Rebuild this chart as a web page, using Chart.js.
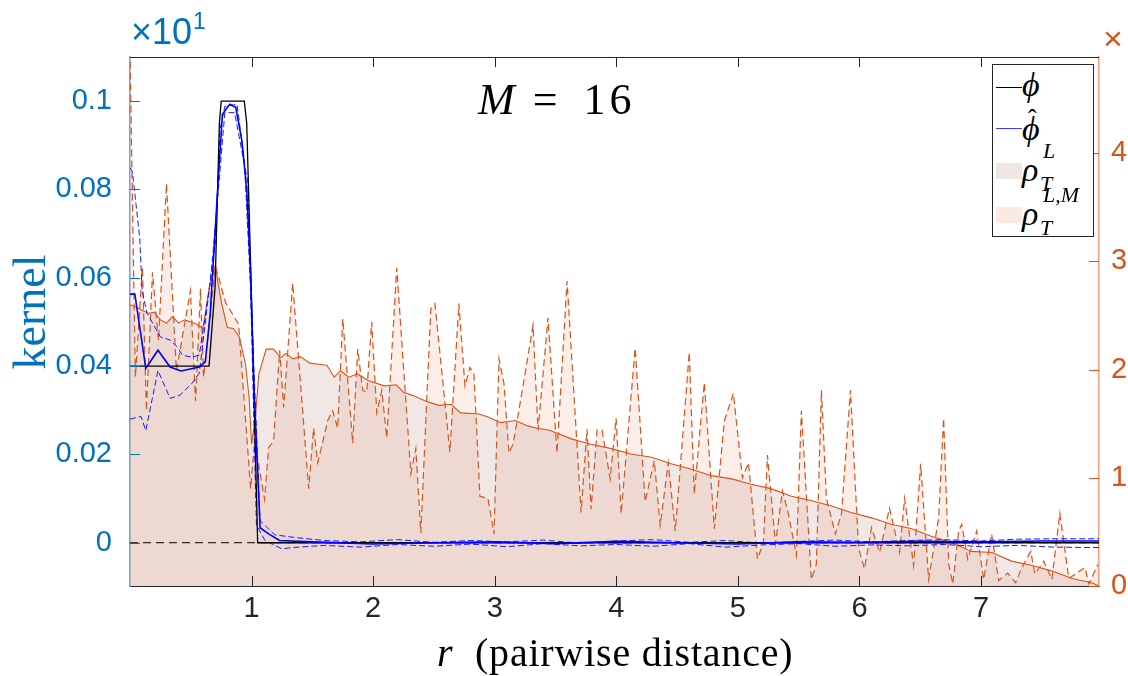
<!DOCTYPE html>
<html lang="en">
<head>
<meta charset="UTF-8">
<title>Kernel estimate, M = 16</title>
<script src="https://cdn.jsdelivr.net/npm/chart.js"></script>
<style>
  body { margin: 0; background: #fff; }
  .wrap { position: relative; width: 1128px; height: 676px; overflow: hidden; }
  canvas { position: absolute; left: 0; top: 0; }
  .tex { position: absolute; font-family: 'Liberation Serif', 'DejaVu Serif', serif; color: #000; white-space: nowrap; line-height: 1; }
  .sans { position: absolute; font-family: 'Liberation Sans', Arial, sans-serif; white-space: nowrap; line-height: 1; }
  .legend { position: absolute; left: 992px; top: 64px; width: 100px; height: 171px; border: 1px solid #262626; background: #fff; }
  .legend .ln { position: absolute; left: 3px; width: 26px; height: 0; }
  .legend .sw { position: absolute; left: 3px; width: 26px; height: 16px; }
  .legend .lab { position: absolute; left: 29px; font-family: 'Liberation Serif', 'DejaVu Serif', serif; font-style: italic; font-size: 34px; line-height: 1; }
  .legend .sup, .legend .sub { position: absolute; font-size: 22px; line-height: 1; }
  .legend .sup { left: 21px; top: -13px; }
  .legend .sub { left: 18px; top: 20px; }
</style>
</head>
<body>
<div class="wrap">
  <canvas id="kernelChart" width="1128" height="676"></canvas>

  <div class="sans" style="left:131px; top:14px; font-size:36px; color:#0072BD;">&times;10<span style="font-size:23px; position:relative; top:-15px; margin-left:1px;">1</span></div>
  <div class="sans" style="left:1103px; top:21px; font-size:34px; color:#D95319;">&times;</div>

  <div class="tex" style="left:478px; top:78px; font-size:44px;"><i>M</i><span style="margin:0 26px 0 18px;">=</span><span style="letter-spacing:4px;">16</span></div>
  <div class="tex" style="left:437px; top:633px; font-size:40px; letter-spacing:0.8px;"><i>r</i>&nbsp; (pairwise distance)</div>
  <div class="tex" style="left:-70px; top:289px; width:200px; text-align:center; font-size:46px; color:#0072BD; transform:rotate(-90deg);">kernel</div>

  <div class="legend">
    <div class="ln" style="top:22px; border-top:1px solid #000;"></div>
    <div class="lab" style="top:3px;">&#981;</div>
    <div class="ln" style="top:63px; border-top:1.5px solid #3a3aff;"></div>
    <div class="lab" style="top:47px;">&#981;<span style="position:absolute; left:6px; top:-6px; font-style:normal; font-size:26px;">&#710;</span></div>
    <div class="sw" style="top:98px; background:#efe6e3;"></div>
    <div class="lab" style="top:88px;">&rho;<span class="sup">L</span><span class="sub">T</span></div>
    <div class="sw" style="top:142px; background:#fbe9e3;"></div>
    <div class="lab" style="top:132px;">&rho;<span class="sup">L,M</span><span class="sub">T</span></div>
  </div>
</div>

<script>
// axis ticks
const xTicks = [1, 2, 3, 4, 5, 6, 7];
const leftTicks = [0, 0.02, 0.04, 0.06, 0.08, 0.1];
const rightTicks = [0, 1, 2, 3, 4];

// true kernel phi
const phiX = [0, 0.65, 0.70, 0.735, 0.75, 0.94, 0.96, 1.0, 1.05, 7.97];
const phi  = [0.04, 0.04, 0.058, 0.095, 0.1, 0.1, 0.095, 0.055, 0, 0];

// estimated kernel phi-hat (mean) and its bounds
const phiHatX = [0, 0.04, 0.13, 0.23, 0.33, 0.42, 0.57, 0.62, 0.66, 0.71, 0.76, 0.82, 0.87, 0.92, 0.96, 0.99, 1.02, 1.07, 1.14, 1.23, 1.5, 2.0, 2.5, 3.0, 3.5, 4.0, 4.5, 5.0, 5.5, 6.0, 6.5, 7.0, 7.5, 7.97];
const phiHat  = [0.0563, 0.0563, 0.0395, 0.0436, 0.0398, 0.0389, 0.0398, 0.041, 0.052, 0.075, 0.097, 0.0993, 0.0986, 0.091, 0.080, 0.062, 0.035, 0.0034, 0.002, 0.0005, 0.0002, -0.0003, 0, 0.0002, -0.0002, 0.0003, 0, -0.0003, 0.0002, 0.0001, 0.0003, 0.0002, 0.0004, 0.0004];

const phiUpX = [0, 0.02, 0.08, 0.10, 0.14, 0.25, 0.33, 0.39, 0.43, 0.51, 0.57, 0.65, 0.70, 0.74, 0.78, 0.88, 0.94, 0.99, 1.07, 1.19, 1.35, 1.6, 1.9, 2.2, 2.5, 2.8, 3.1, 3.4, 3.7, 4.0, 4.3, 4.6, 4.9, 5.2, 5.5, 5.8, 6.1, 6.4, 6.7, 7.0, 7.3, 7.6, 7.97];
const phiUp  = [0.085, 0.084, 0.069, 0.057, 0.052, 0.0466, 0.0459, 0.0443, 0.0425, 0.042, 0.0425, 0.057, 0.067, 0.0936, 0.0988, 0.0993, 0.0868, 0.059, 0.005, 0.0018, 0.0012, 0.0005, 0.0002, 0.0007, 0.0001, 0.0005, 0.0002, 0.0006, -0.0001, 0.0004, 0.0007, 0.0001, 0.0005, -0.0001, 0.0003, 0.0006, 0.0002, 0.0005, 0.0007, 0.0004, 0.0008, 0.0009, 0.0009];

const phiLoX = [0, 0.09, 0.13, 0.23, 0.33, 0.41, 0.51, 0.57, 0.65, 0.68, 0.78, 0.86, 0.97, 1.04, 1.11, 1.25, 1.33, 1.6, 1.9, 2.2, 2.5, 2.8, 3.1, 3.4, 3.7, 4.0, 4.3, 4.6, 4.9, 5.2, 5.5, 5.8, 6.1, 6.4, 6.7, 7.0, 7.3, 7.6, 7.97];
const phiLo  = [0.028, 0.0286, 0.0254, 0.039, 0.0327, 0.0334, 0.0361, 0.0384, 0.057, 0.0647, 0.0974, 0.0974, 0.0815, 0.004, 0.0005, -0.0014, -0.0011, -0.0006, -0.001, -0.0004, -0.0008, -0.0003, -0.0009, -0.0002, -0.0007, -0.0004, -0.0008, -0.0002, -0.001, -0.0005, -0.0002, -0.0008, -0.0005, -0.0007, -0.0004, -0.0009, -0.0006, -0.001, -0.0011];

const zeroX = [0, 7.97];
const zero  = [0, 0];

// rho_T^L (right axis)
const rhoLX = [0.00, 0.05, 0.10, 0.15, 0.20, 0.25, 0.30, 0.35, 0.40, 0.45, 0.50, 0.55, 0.60, 0.65, 0.70, 0.75, 0.80, 0.85, 0.90, 0.95, 0.98, 1.00, 1.03, 1.06, 1.12, 1.18, 1.24, 1.28, 1.34, 1.40, 1.48, 1.55, 1.62, 1.68, 1.73, 1.80, 1.87, 1.96, 2.09, 2.19, 2.25, 2.33, 2.43, 2.54, 2.64, 2.72, 2.87, 2.95, 3.05, 3.17, 3.27, 3.34, 3.45, 3.63, 3.79, 3.96, 4.12, 4.29, 4.45, 4.62, 4.78, 4.95, 5.11, 5.27, 5.44, 5.60, 5.77, 5.93, 6.10, 6.26, 6.43, 6.59, 6.76, 6.92, 7.09, 7.25, 7.42, 7.58, 7.75, 7.91, 7.97];
const rhoL  = [2.60, 2.58, 2.55, 2.52, 2.53, 2.46, 2.43, 2.49, 2.43, 2.46, 2.44, 2.42, 2.38, 2.75, 2.96, 2.63, 2.39, 2.38, 2.30, 2.05, 1.74, 1.31, 1.55, 1.96, 2.19, 2.19, 2.11, 2.15, 2.10, 2.12, 2.06, 2.05, 2.04, 1.93, 1.99, 1.93, 1.96, 1.90, 1.85, 1.86, 1.79, 1.76, 1.71, 1.67, 1.68, 1.60, 1.59, 1.56, 1.51, 1.53, 1.48, 1.46, 1.44, 1.36, 1.31, 1.27, 1.22, 1.19, 1.13, 1.08, 1.02, 0.99, 0.94, 0.90, 0.83, 0.79, 0.74, 0.68, 0.63, 0.57, 0.53, 0.46, 0.40, 0.32, 0.31, 0.23, 0.19, 0.14, 0.07, 0.03, 0.0];

// rho_T^{L,M} (right axis)
const rhoLMX = [0.00, 0.044, 0.102, 0.135, 0.185, 0.234, 0.300, 0.382, 0.497, 0.539, 0.580, 0.605, 0.703, 0.786, 0.893, 0.992, 1.025, 1.107, 1.140, 1.181, 1.231, 1.264, 1.338, 1.470, 1.510, 1.544, 1.568, 1.626, 1.667, 1.708, 1.750, 1.832, 1.873, 1.914, 1.947, 1.988, 2.030, 2.071, 2.112, 2.194, 2.310, 2.351, 2.392, 2.474, 2.508, 2.631, 2.705, 2.755, 2.796, 2.829, 2.878, 2.944, 2.994, 3.035, 3.076, 3.117, 3.150, 3.180, 3.258, 3.315, 3.356, 3.438, 3.512, 3.595, 3.710, 3.759, 3.792, 3.842, 3.883, 3.949, 3.998, 4.040, 4.155, 4.237, 4.312, 4.361, 4.427, 4.485, 4.600, 4.641, 4.724, 4.806, 4.889, 4.963, 5.037, 5.087, 5.161, 5.210, 5.243, 5.309, 5.366, 5.415, 5.481, 5.522, 5.604, 5.645, 5.687, 5.728, 5.802, 5.852, 5.926, 5.992, 6.041, 6.099, 6.165, 6.247, 6.330, 6.371, 6.445, 6.503, 6.569, 6.651, 6.692, 6.734, 6.767, 6.816, 6.841, 6.890, 6.964, 7.021, 7.087, 7.145, 7.219, 7.285, 7.335, 7.409, 7.442, 7.516, 7.582, 7.648, 7.722, 7.788, 7.854, 7.887, 7.961];
const rhoLM  = [4.95, 1.93, 2.95, 1.62, 2.90, 2.27, 3.72, 1.99, 2.73, 1.71, 2.75, 1.93, 2.96, 2.62, 2.42, 0.90, 1.34, 0.80, 1.28, 1.34, 2.18, 1.65, 2.80, 0.90, 1.46, 1.14, 1.25, 1.53, 1.62, 1.46, 2.47, 1.32, 2.19, 1.81, 1.79, 2.44, 1.60, 1.81, 1.37, 2.94, 1.04, 1.27, 0.49, 2.56, 2.61, 1.24, 2.61, 1.85, 2.02, 1.96, 0.83, 0.81, 0.48, 2.10, 1.87, 1.23, 1.31, 1.50, 2.02, 2.41, 1.44, 2.48, 1.23, 2.82, 0.68, 1.45, 0.71, 1.44, 1.44, 0.99, 1.55, 0.67, 2.20, 0.78, 1.16, 0.56, 1.14, 0.51, 2.16, 0.85, 1.88, 0.53, 1.53, 1.78, 1.00, 1.14, 0.25, 0.40, 1.21, 0.39, 0.88, 0.67, 0.28, 1.62, 0.06, 0.20, 1.81, 0.81, 0.48, 0.67, 1.81, 0.35, 0.16, 0.54, 0.31, 0.72, 0.31, 0.81, 0.19, 1.13, 0.06, 0.63, 1.55, 0.20, 0.02, 0.51, 0.57, 0.25, 0.51, 0.06, 0.48, 0.05, 0.12, 0.03, 0.17, 0.32, 0.11, 0.23, 0.06, 0.67, 0.07, 0.12, 0.17, 0.02, 0.20];

const pts = (xs, ys) => xs.map((x, i) => ({ x: x, y: ys[i] }));

// MATLAB style frame: top border and inward tick marks
const matlabFrame = {
    id: 'matlabFrame',
    afterDatasetsDraw(chart) {
        const { ctx, chartArea: a, scales } = chart;
        ctx.save();
        ctx.lineWidth = 1;
        ctx.strokeStyle = '#262626';
        ctx.beginPath();
        ctx.moveTo(a.left, a.top + 0.5);
        ctx.lineTo(a.right, a.top + 0.5);
        xTicks.forEach(v => {
            const px = Math.round(scales.x.getPixelForValue(v)) + 0.5;
            ctx.moveTo(px, a.bottom); ctx.lineTo(px, a.bottom - 10);
            ctx.moveTo(px, a.top); ctx.lineTo(px, a.top + 10);
        });
        ctx.stroke();

        ctx.strokeStyle = '#0072BD';
        ctx.beginPath();
        leftTicks.forEach(v => {
            const py = Math.round(scales.y.getPixelForValue(v)) + 0.5;
            ctx.moveTo(a.left, py); ctx.lineTo(a.left + 10, py);
        });
        ctx.stroke();

        ctx.strokeStyle = '#D95319';
        ctx.beginPath();
        rightTicks.forEach(v => {
            const py = Math.round(scales.y2.getPixelForValue(v)) + 0.5;
            ctx.moveTo(a.right, py); ctx.lineTo(a.right - 10, py);
        });
        ctx.stroke();
        ctx.restore();
    }
};

const tickFont = { family: "'Liberation Sans', Arial, sans-serif", size: 29 };

new Chart(document.getElementById('kernelChart'), {
    type: 'line',
    data: {
        datasets: [
            {
                label: 'phi-hat', data: pts(phiHatX, phiHat), yAxisID: 'y',
                borderColor: '#0000ff', borderWidth: 1.6, order: 1
            },
            {
                label: 'phi', data: pts(phiX, phi), yAxisID: 'y',
                borderColor: '#000000', borderWidth: 1.3, order: 2
            },
            {
                label: 'upper', data: pts(phiUpX, phiUp), yAxisID: 'y',
                borderColor: '#1a1aff', borderWidth: 1, borderDash: [6, 3], order: 3
            },
            {
                label: 'lower', data: pts(phiLoX, phiLo), yAxisID: 'y',
                borderColor: '#1a1aff', borderWidth: 1, borderDash: [6, 3], order: 3
            },
            {
                label: 'zero', data: pts(zeroX, zero), yAxisID: 'y',
                borderColor: '#000000', borderWidth: 1, borderDash: [8, 5], order: 4
            },
            {
                label: 'rhoL', data: pts(rhoLX, rhoL), yAxisID: 'y2',
                borderColor: '#D95319', borderWidth: 1.1,
                fill: 'origin', backgroundColor: 'rgba(165,115,95,0.16)', order: 5
            },
            {
                label: 'rhoLM', data: pts(rhoLMX, rhoLM), yAxisID: 'y2',
                borderColor: '#D95319', borderWidth: 1.2, borderDash: [7, 4],
                fill: 'origin', backgroundColor: 'rgba(217,83,25,0.1)', order: 6
            }
        ]
    },
    options: {
        responsive: false,
        animation: false,
        devicePixelRatio: 1,
        elements: { point: { radius: 0 }, line: { tension: 0 } },
        layout: { padding: { top: 57, left: 0, right: 0, bottom: 0 } },
        plugins: { legend: { display: false }, tooltip: { enabled: false } },
        scales: {
            x: {
                type: 'linear', min: 0, max: 7.97,
                afterBuildTicks: s => { s.ticks = xTicks.map(v => ({ value: v })); },
                afterFit: s => { s.height = 90; },
                grid: { drawOnChartArea: false, drawTicks: false },
                border: { color: '#262626', width: 1 },
                ticks: { color: '#262626', font: tickFont, padding: 6, maxRotation: 0 }
            },
            y: {
                type: 'linear', position: 'left', min: -0.0098, max: 0.11,
                afterBuildTicks: s => { s.ticks = leftTicks.map(v => ({ value: v })); },
                afterFit: s => { s.width = 130; },
                grid: { drawOnChartArea: false, drawTicks: false },
                border: { color: '#6aa9d8', width: 1.5 },
                ticks: { color: '#0072BD', font: tickFont, padding: 18, callback: v => String(v) }
            },
            y2: {
                type: 'linear', position: 'right', min: 0, max: 4.89,
                afterBuildTicks: s => { s.ticks = rightTicks.map(v => ({ value: v })); },
                afterFit: s => { s.width = 29; },
                grid: { drawOnChartArea: false, drawTicks: false },
                border: { color: '#ec9f7c', width: 1.5 },
                ticks: { color: '#D95319', font: tickFont, padding: 12, callback: v => String(v) }
            }
        }
    },
    plugins: [matlabFrame]
});
</script>
</body>
</html>
